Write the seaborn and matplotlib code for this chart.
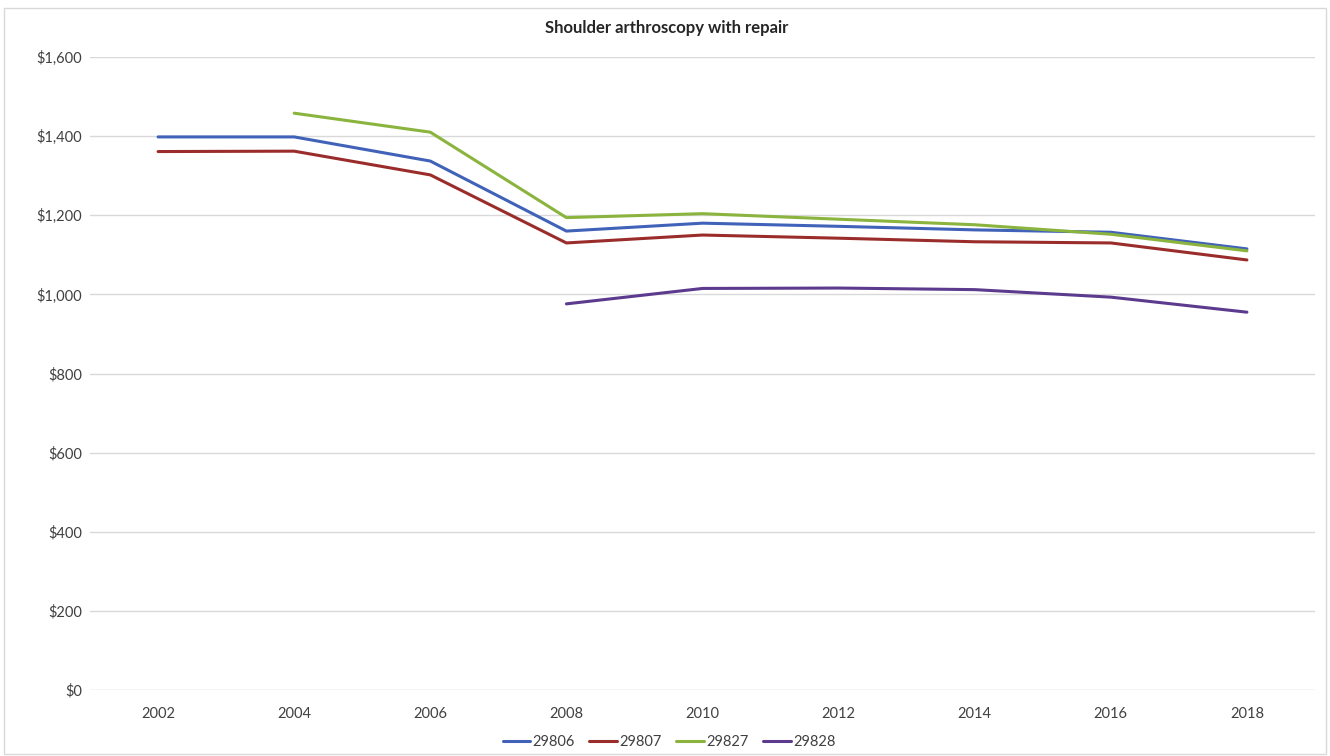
import numpy as np
import pandas as pd
import matplotlib
matplotlib.use("Agg")
import matplotlib.pyplot as plt
import seaborn as sns
from matplotlib.patches import Rectangle
from matplotlib.ticker import FuncFormatter

years = [2002, 2004, 2006, 2008, 2010, 2012, 2014, 2016, 2018]
codes = ["29806", "29807", "29827", "29828"]
cpt_29806 = [1398, 1398, 1337, 1160, 1180, 1172, 1163, 1157, 1115]
cpt_29807 = [1361, 1362, 1302, 1130, 1150, 1142, 1133, 1130, 1087]
cpt_29827 = [np.nan, 1458, 1410, 1194, 1204, 1190, 1176, 1152, 1110]
cpt_29828 = [np.nan, np.nan, np.nan, 976, 1015, 1016, 1012, 993, 955]
title = "Shoulder arthroscopy with repair"

series = dict(zip(codes, [cpt_29806, cpt_29807, cpt_29827, cpt_29828]))
rows = []
for code, vals in series.items():
    for i, v in enumerate(vals):
        rows.append({"pos": i, "code": code, "value": v})
df = pd.DataFrame(rows).dropna()

palette = {"29806": "#4062B8", "29807": "#9A2D2B", "29827": "#8AB43E", "29828": "#5C3B8E"}

sns.set_theme(style="white")
plt.rcParams["font.family"] = ["Lato", "DejaVu Sans"]

fig = plt.figure(figsize=(13.3, 7.56), dpi=100)
ax = fig.add_axes([0.0677, 0.0873, 0.9210, 0.8373])

for y in range(200, 1601, 200):
    ax.axhline(y, color="#D9D9D9", lw=1.0, zorder=0)
ax.axhline(0, color="#D0D0D0", lw=1.0, zorder=0)

sns.lineplot(data=df, x="pos", y="value", hue="code", hue_order=codes,
             palette=palette, linewidth=2.2, ax=ax, legend=True, sort=True,
             estimator=None)

ax.set_xlim(-0.5, len(years) - 0.5)
ax.set_ylim(0, 1600)
ax.set_xticks(range(len(years)))
ax.set_xticklabels([str(y) for y in years])
ax.set_yticks(range(0, 1601, 200))
ax.yaxis.set_major_formatter(FuncFormatter(lambda v, p: f"${v:,.0f}"))
ax.tick_params(axis="both", labelsize=10.5, colors="#404040", length=0, pad=6)
ax.tick_params(axis="x", pad=12)
ax.set_xlabel("")
ax.set_ylabel("")
for s in ax.spines.values():
    s.set_visible(False)

fig.text(0.5015, 0.963, title, fontsize=12, fontweight="bold", color="#262626",
         ha="center", va="center")

handles, labels = ax.get_legend_handles_labels()
ax.legend_.remove()
leg = fig.legend(handles, labels, loc="center", bbox_to_anchor=(0.503, 0.019), ncol=4,
                 frameon=False, fontsize=10.5, handlelength=1.9,
                 handletextpad=0.15, columnspacing=1.0)
for t in leg.get_texts():
    t.set_color("#404040")

fig.patches.append(Rectangle((0.003, 0.002), 0.994, 0.988, transform=fig.transFigure,
                             fill=False, edgecolor="#D9D9D9", lw=1.0))

fig.savefig("out.png", dpi=100, facecolor="white")
